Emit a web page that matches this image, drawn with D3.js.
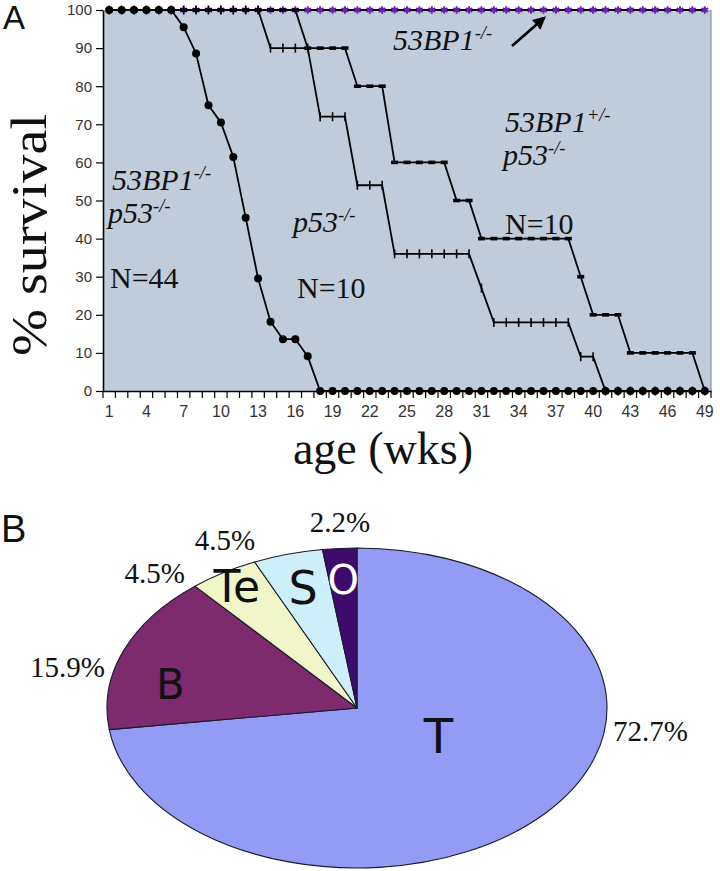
<!DOCTYPE html>
<html><head><meta charset="utf-8">
<script src="https://cdn.jsdelivr.net/npm/d3@7"></script>
<style>body{margin:0;background:#fff;} svg{display:block;}</style>
</head><body>
<script>
// ---------- DATA ----------
const weeks = [1,2,3,4,5,6,7,8,9,10,11,12,13,14,15,16,17,18,19,20,21,22,23,24,25,26,27,28,29,30,31,32,33,34,35,36,37,38,39,40,41,42,43,44,45,46,47,48,49];
const xTickLabels = [1,4,7,10,13,16,19,22,25,28,31,34,37,40,43,46,49];
const yTicks = [0,10,20,30,40,50,60,70,80,90,100];
// 53BP1-/- p53-/- (N=44)
const survDKO_p53 = [100,100,100,100,100,100,95.5,88.6,75,70.5,61.4,45.5,29.5,18.2,13.6,13.6,9.1,0,0,0,0,0,0,0,0,0,0,0,0,0,0,0,0,0,0,0,0,0,0,0,0,0,0,0,0,0,0,0,0];
// p53-/- (N=10)
const survP53 = [100,100,100,100,100,100,100,100,100,100,100,100,100,90,90,90,90,72,72,72,54,54,54,36,36,36,36,36,36,36,27,18,18,18,18,18,18,18,9,9,0,0,0,0,0,0,0,0,0];
// 53BP1+/- p53-/- (N=10)
const survHet_p53 = [100,100,100,100,100,100,100,100,100,100,100,100,100,100,100,100,90,90,90,90,80,80,80,60,60,60,60,60,50,50,40,40,40,40,40,40,40,40,30,20,20,20,10,10,10,10,10,10,0];
// 53BP1-/-
const survDKO = [100,100,100,100,100,100,100,100,100,100,100,100,100,100,100,100,100,100,100,100,100,100,100,100,100,100,100,100,100,100,100,100,100,100,100,100,100,100,100,100,100,100,100,100,100,100,100,100,100];

const pieCategories = ["T","B","Te","S","O"];
const pieValues = [72.7,15.9,4.5,4.5,2.2];
const pieLabels = ["72.7%","15.9%","4.5%","4.5%","2.2%"];

// ---------- LAYOUT / STYLE ----------
const W = 720, H = 871;
const plot = {left:103, right:711, top:10, bottom:391};
const pieColors = ["#939bf5","#7e2a6f","#f1f6c9","#cdeffa","#3e0b6c"];
const letterColors = ["#111","#111","#111","#111","#fff"];
const letterSizes = [48,42,44,46,40];
const letterRadius = [0.37,0.76,0.9,0.78,0.8];
const letterAngleShift = [-12.7,-10,0,0,0];
const pieCenter = {x:357, y:708, rx:250, ry:160};
// percent label anchors relative to pie centre [dx, dy, anchor]
const pctPos = [[256,33,"start"],[-252,-31,"end"],[-172,-125,"end"],[-132,-158,"middle"],[-17,-176,"middle"]];

const svg = d3.select("body").append("svg").attr("width",W).attr("height",H);

// ---------- PANEL A ----------
const xb = d3.scaleBand().domain(weeks).range([plot.left, plot.right]).padding(0);
const xc = w => xb(w) + xb.bandwidth()/2;
const y = d3.scaleLinear().domain([0,100]).range([plot.bottom, plot.top]);

svg.append("rect").attr("x",plot.left).attr("y",plot.top)
  .attr("width",plot.right-plot.left).attr("height",plot.bottom-plot.top)
  .attr("fill","#c1ccdb");
svg.append("line").attr("x1",plot.right).attr("x2",plot.right).attr("y1",plot.top).attr("y2",plot.bottom)
  .attr("stroke","#8a8f99").attr("stroke-width",1.2);

// y axis
const yAxis = svg.append("g").attr("transform",`translate(${plot.left},0)`)
  .call(d3.axisLeft(y).tickValues(yTicks).tickSize(7).tickSizeOuter(0).tickPadding(4));
yAxis.select(".domain").attr("stroke","#000").attr("stroke-width",1.6);
yAxis.selectAll(".tick line").attr("stroke","#000").attr("stroke-width",1.2);
yAxis.selectAll("text").attr("font-family","Liberation Sans, Arial, sans-serif").attr("font-size",15).attr("fill","#333");

// x axis (labels)
const xAxis = svg.append("g").attr("transform",`translate(0,${plot.bottom})`)
  .call(d3.axisBottom(xb).tickValues(xTickLabels).tickSize(0).tickPadding(15));
xAxis.select(".domain").attr("stroke","#000").attr("stroke-width",1.6);
xAxis.selectAll("text").attr("font-family","Liberation Sans, Arial, sans-serif").attr("font-size",16).attr("fill","#333");
// category boundary ticks
svg.append("g").selectAll("line").data(weeks.concat([null])).join("line")
  .attr("x1",d => d===null ? plot.right : xb(d)).attr("x2",d => d===null ? plot.right : xb(d))
  .attr("y1",plot.bottom).attr("y2",plot.bottom+7).attr("stroke","#000").attr("stroke-width",1.2);

const line = d3.line().x(d=>xc(d.w)).y(d=>y(d.v));
const toPts = arr => weeks.map((w,i)=>({w, v:arr[i]}));

// 53BP1-/-
const pDKO = toPts(survDKO);
svg.append("path").datum(pDKO).attr("d",line).attr("fill","none").attr("stroke","#000").attr("stroke-width",2);
svg.append("g").selectAll("path").data(pDKO).join("path")
  .attr("transform",d=>`translate(${xc(d.w)},${y(d.v)})`)
  .attr("d",d3.symbol(d3.symbolAsterisk,40))
  .attr("fill","none").attr("stroke","#6a1fb0").attr("stroke-width",2);

// 53BP1+/- p53-/-
const pHet = toPts(survHet_p53);
svg.append("path").datum(pHet).attr("d",line).attr("fill","none").attr("stroke","#000").attr("stroke-width",1.8);
svg.append("g").selectAll("rect").data(pHet).join("rect")
  .attr("x",d=>xc(d.w)-3.5).attr("y",d=>y(d.v)-1.8).attr("width",7).attr("height",3.6).attr("fill","#000");

// p53-/-
const pP53 = toPts(survP53);
svg.append("path").datum(pP53).attr("d",line).attr("fill","none").attr("stroke","#000").attr("stroke-width",1.8);
svg.append("g").selectAll("line").data(pP53).join("line")
  .attr("x1",d=>xc(d.w)).attr("x2",d=>xc(d.w)).attr("y1",d=>y(d.v)-4.5).attr("y2",d=>y(d.v)+4.5)
  .attr("stroke","#000").attr("stroke-width",1.6);

// 53BP1-/- p53-/-
const pDP = toPts(survDKO_p53);
svg.append("path").datum(pDP).attr("d",line).attr("fill","none").attr("stroke","#000").attr("stroke-width",1.8);
svg.append("g").selectAll("circle").data(pDP).join("circle")
  .attr("cx",d=>xc(d.w)).attr("cy",d=>y(d.v)).attr("r",4).attr("fill","#000");

// annotations
const serif = "Liberation Serif, Times New Roman, serif";
function label(x, yy, main, sup, size, italic=true){
  const t = svg.append("text").attr("x",x).attr("y",yy).attr("font-family",serif)
    .attr("font-size",size).attr("font-style",italic?"italic":"normal").attr("fill","#111");
  t.append("tspan").text(main);
  if (sup) t.append("tspan").attr("font-size",size*0.62).attr("dy",-size*0.38).text(sup);
  return t;
}
label(393,50,"53BP1","-/-",30);
label(112,190,"53BP1","-/-",30);
label(108,223,"p53","-/-",30);
label(110,288,"N=44",null,30,false);
label(293,232,"p53","-/-",30);
label(297,298,"N=10",null,30,false);
label(505,132,"53BP1","+/-",30);
label(503,165,"p53","-/-",30);
label(505,234,"N=10",null,30,false);

// arrow
svg.append("defs").append("marker").attr("id","ah").attr("viewBox","0 0 10 10").attr("refX",8).attr("refY",5)
  .attr("markerWidth",5).attr("markerHeight",5).attr("orient","auto")
  .append("path").attr("d","M0,0L10,5L0,10z").attr("fill","#000");
svg.append("line").attr("x1",512).attr("y1",46).attr("x2",544).attr("y2",18)
  .attr("stroke","#000").attr("stroke-width",2.6).attr("marker-end","url(#ah)");

// axis titles
svg.append("text").attr("transform","translate(46,235) rotate(-90)").attr("text-anchor","middle")
  .attr("font-family",serif).attr("font-size",50).attr("textLength",242).attr("lengthAdjust","spacingAndGlyphs")
  .attr("fill","#111").text("% survival");
svg.append("text").attr("x",383).attr("y",464).attr("text-anchor","middle")
  .attr("font-family",serif).attr("font-size",46).attr("fill","#111").text("age (wks)");

// panel letters
svg.append("text").attr("x",3).attr("y",29).attr("font-family","Liberation Sans, Arial, sans-serif")
  .attr("font-size",33).attr("fill","#111").text("A");
svg.append("text").attr("x",1).attr("y",542).attr("font-family","Liberation Sans, Arial, sans-serif")
  .attr("font-size",38).attr("fill","#111").text("B");

// ---------- PANEL B (pie) ----------
const pie = d3.pie().sort(null).value(d=>d)(pieValues);
const R = pieCenter.ry;
const arc = d3.arc().innerRadius(0).outerRadius(R);
const gp = svg.append("g").attr("transform",`translate(${pieCenter.x},${pieCenter.y})`);
gp.append("g").attr("transform",`scale(${pieCenter.rx/pieCenter.ry},1)`)
  .selectAll("path").data(pie).join("path")
  .attr("d",arc).attr("fill",(d,i)=>pieColors[i])
  .attr("stroke","#1a1a2a").attr("stroke-width",1.1).attr("vector-effect","non-scaling-stroke");

pie.forEach((d,i)=>{
  const a = (d.startAngle+d.endAngle)/2 + letterAngleShift[i]*Math.PI/180;
  const f = letterRadius[i];
  const lx = Math.sin(a)*pieCenter.rx*f, ly = -Math.cos(a)*pieCenter.ry*f;
  gp.append("text").attr("x",lx).attr("y",ly).attr("text-anchor","middle").attr("dominant-baseline","central")
    .attr("font-family","DejaVu Sans, Verdana, sans-serif").attr("font-size",letterSizes[i])
    .attr("fill",letterColors[i]).text(pieCategories[i]);
  gp.append("text").attr("x",pctPos[i][0]).attr("y",pctPos[i][1]).attr("text-anchor",pctPos[i][2])
    .attr("font-family",serif).attr("font-size",29).attr("fill","#111").text(pieLabels[i]);
});
</script>
</body></html>
